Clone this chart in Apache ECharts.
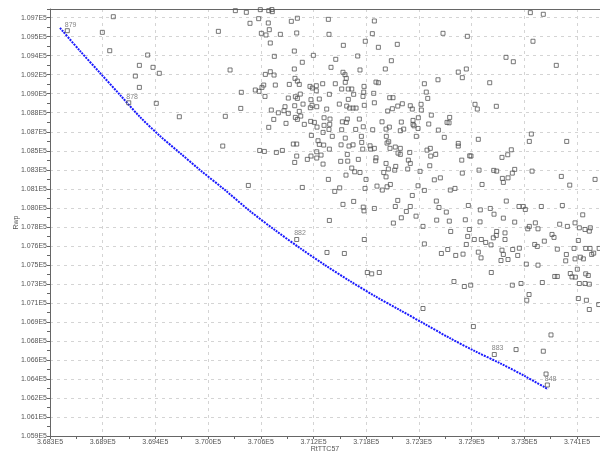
<!DOCTYPE html>
<html>
<head>
<meta charset="utf-8">
<script src="https://cdn.jsdelivr.net/npm/echarts@6/dist/echarts.min.js"></script>
<style>
  html, body { margin: 0; padding: 0; background: #fff; }
  #grf { width: 600px; height: 453px; }
</style>
</head>
<body>
<div id="grf"></div>
<script>
var xMin = 368293.640625, xStep = 576.359375, xMax = 374309;
var yMin = 105895.75, yStep = 172.75, yMax = 109775;
var xName = 'RtTTC57';
var yName = 'Rwp';

// pontos (RtTTC57, Rwp)
var pontosX = [
  368986,368866,368947,369362,369271,369420,369489,369227,369271,369456,369708,370135,370263,370386,370380,370211,
  370183,370463,370321,370441,370594,370686,370725,370720,370481,370576,370681,370692,370605,370656,370813,370933,
  370999,370992,370703,370966,370747,371174,371053,370966,370703,370649,370744,370973,370999,371020,370911,370758,
  370631,370539,370580,370612,370645,370900,370977,370999,371031,371137,371163,371206,371206,371276,371239,371148,
  371061,370970,370864,371141,371211,371159,370714,370791,370853,370900,371020,370977,370999,371036,370741,371291,
  370875,371075,371145,371185,371214,370686,371291,371280,371152,370955,370992,371225,371239,371287,370587,370638,
  370769,370835,370992,370970,371108,371148,371211,371211,371258,371280,371053,
  371338,371841,371345,371819,371742,371502,371885,372092,372592,372858,373547,373689,373576,371659,371419,372027,
  373281,373361,373831,371367,371684,371961,371498,371520,372759,372847,372803,371534,372537,373103,371414,371523,
  371859,371885,371728,372388,371484,371556,371594,371725,371349,371834,372409,371615,371717,371556,372009,372045,
  372425,371841,371458,371539,371608,371641,371731,371320,371572,371987,372038,372097,372147,372234,372256,372352,
  372355,372942,372967,373175,372464,372665,372322,372264,371356,371545,371677,371491,371534,371925,372136,372264,
  372436,372636,372658,372005,371969,371353,371345,371484,371637,371720,371823,372125,372162,372275,372319,372541,
  371381,371523,371699,371972,372300,372606,372978,373558,373536,373945,371349,371477,371564,371608,371703,371714,
  371794,371801,371841,371980,371998,372012,372070,372125,372100,372125,372228,372417,372453,372458,372512,372759,
  372759,372884,372898,373237,373300,373339,371473,371545,371550,371666,371859,371856,371969,372075,372213,372234,
  372206,372447,372797,371594,371626,371684,371994,371944,372064,372341,372803,372986,373147,373179,373350,373376,
  373566,371338,371531,371750,371969,372497,372563,373019,373241,373252,373303,373886,373978,374255,371870,371928,
  371980,372016,371739,371462,371408,372319,372388,372672,372723,372256,372097,372519,373284,371498,371615,371720,
  371728,371841,372070,372191,372234,372548,372628,372869,373000,373109,373150,373423,373470,373492,373667,373897,
  374120,372136,372297,372523,372661,372836,372997,373252,373376,373602,373868,374036,372049,371349,
  372373,373519,373536,373631,373952,374083,374145,374203,374192,371731,372388,371323,371513,371764,371812,371895,
  372676,372880,372862,372934,373011,373059,373117,373142,373179,373175,373270,373270,372847,372644,372574,372731,
  372811,372978,373008,373237,373252,373226,373303,373354,373427,373409,373503,373631,373595,373623,373700,373784,
  373806,373842,373941,373934,374025,374072,374036,374094,374127,374153,374200,374218,374240,374300,374061,373984,
  374003,374039,374153,374181,373814,373842,373678,373445,373350,373120,374083,374145,374192,373533,373508,374072,
  374160,374295,374192,372712,372825,372895,372373,372924,373773,373391,373689,373719
];
var pontosY = [
  109705,109563,109396,109357,109263,109245,109191,109166,109063,108918,108796,109572,109221,109018,108872,108800,
  108530,108172,109760,109745,109769,109760,109751,109770,109645,109687,109648,109587,109554,109539,109545,109663,
  109691,109557,109466,109393,109345,109354,109291,109230,109205,109181,109175,109145,109120,109090,109090,109084,
  109084,109039,109027,109063,108981,108966,108978,108963,109002,109072,109057,109078,109032,109096,108957,108951,
  108911,108896,108887,108878,108887,108900,108857,108832,108851,108827,108845,108790,108772,108802,108772,108787,
  108736,108727,108754,108745,108702,108700,108718,108654,108627,108548,108548,108578,108545,108539,108490,108481,
  108472,108490,108439,108381,108409,108439,108478,108421,108448,108366,108154,
  109681,109666,109545,109551,109482,109445,109427,109454,109554,109527,109742,109727,109482,109348,109318,109305,
  109336,109296,109263,109245,109221,109230,109200,109178,109202,109230,109151,109145,109132,109105,109096,109109,
  109111,109105,109072,109096,109048,109048,109048,109020,109000,109009,109020,109000,108981,108954,108969,108969,
  108963,108923,108911,108893,108875,108875,108900,108866,108875,108848,108869,108893,108914,108896,108866,108909,
  108857,108909,108866,108891,108811,108790,108787,108763,108775,108775,108775,108750,108745,108750,108748,108727,
  108730,108745,108741,108702,108684,108727,108681,108678,108681,108705,108678,108669,108684,108714,108690,108675,
  108618,108602,108618,108618,108618,108609,108591,108639,108572,108572,108502,108541,108530,108541,108563,108502,
  108532,108502,108509,108557,108569,108509,108521,108509,108466,108454,108472,108493,108509,108439,108454,108554,
  108530,108441,108439,108427,108451,108496,108391,108454,108393,108409,108423,108396,108372,108345,108402,108372,
  108321,108351,108402,108330,108296,108290,108321,108290,108311,108300,108284,108311,108309,108302,108284,108318,
  108302,108227,108266,108227,108250,108223,108241,108181,108236,108200,108241,108254,108175,108227,108166,108130,
  108160,108181,108145,108150,108118,108169,108127,108130,108145,108081,108036,108030,108030,108000,108027,107975,
  107941,107963,107981,107936,107981,107972,107930,107990,107950,107963,107911,107981,107981,107954,107981,107990,
  107905,107878,107893,107857,107848,107860,107841,107875,107839,107832,107820,107832,107830,107854,
  107800,107778,107800,107778,107800,107787,107772,107787,107757,107681,107641,107563,107554,107381,107369,107381,
  107754,107772,107709,107681,107681,107654,107632,107696,107754,107718,107741,107681,107636,107590,107554,107536,
  107548,107566,107514,107584,107545,107490,107499,107590,107602,107536,107457,107448,107636,107618,107666,107727,
  107700,107593,107545,107487,107600,107672,107505,107520,107505,107600,107600,107545,107557,107600,107411,107372,
  107341,107339,107369,107354,107345,107345,107290,107281,107266,107381,107281,107281,107275,107181,107129,107145,
  107129,107090,107045,107299,107254,107266,107054,106890,106814,106681,106666,106459
];

// pontos com rotulo
var rotulos  = ['879', '878', '882', '883', '848'];
var rotulosX = [368483, 369155, 370992, 373153, 373733];
var rotulosY = [109578, 108923, 107681, 106636, 106359];

// curva azul
var curvaX = [368403,368622,368841,369060,369278,369497,369716,369935,370208,370481,370755,
              371028,371302,371575,371849,372122,372395,372669,372942,373216,373489,373741];
var curvaY = [109603,109394,109194,108994,108794,108621,108466,108312,108130,107939,107766,
              107603,107448,107303,107166,107039,106912,106784,106666,106557,106439,106321];

var grafico = echarts.init(document.getElementById('grf'));

function juntar(xs, ys) {
  var out = [];
  for (var i = 0; i < xs.length; i++) {
    out.push([xs[i], ys[i]]);
  }
  return out;
}

function formataE5(v) {
  return (v / 1e5).toFixed(3) + 'E5';
}

var fonte = 'Liberation Sans';
var corTexto = '#555';
var corEixo = '#666';
var linhaGrade = { show: true, lineStyle: { color: '#d4d4d4', type: [3, 4], width: 1 } };

var dadosRotulos = [];
for (var i = 0; i < rotulos.length; i++) {
  dadosRotulos.push({ name: rotulos[i], value: [rotulosX[i], rotulosY[i]] });
}

var quadrado = {
  color: 'rgba(0,0,0,0)',
  borderColor: '#555',
  borderWidth: 1
};

var opcoes = {
  animation: false,
  grid: { left: 50, right: 0, top: 9, bottom: 17, outerBoundsMode: 'none' },
  xAxis: [{
    type: 'value',
    min: xMin,
    max: xMax,
    interval: xStep,
    name: xName,
    nameLocation: 'middle',
    nameGap: 10,
    nameMoveOverlap: false,
    nameTextStyle: { color: corTexto, fontSize: 7, fontFamily: fonte },
    axisLine: { lineStyle: { color: corEixo } },
    axisTick: { show: true, length: 3, lineStyle: { color: corEixo } },
    minorTick: { show: true, splitNumber: 2, length: 3, lineStyle: { color: corEixo } },
    axisLabel: {
      formatter: formataE5, color: corTexto, fontSize: 7, fontFamily: fonte,
      margin: 3, showMaxLabel: false
    },
    splitLine: linhaGrade
  }, {
    type: 'value',
    position: 'top',
    min: xMin,
    max: xMax,
    axisLine: { show: true, lineStyle: { color: corEixo } },
    axisTick: { show: false },
    axisLabel: { show: false },
    splitLine: { show: false }
  }],
  yAxis: {
    type: 'value',
    min: yMin,
    max: yMax,
    interval: yStep,
    name: yName,
    nameLocation: 'middle',
    nameGap: 30,
    nameMoveOverlap: false,
    nameTextStyle: { color: corTexto, fontSize: 7, fontFamily: fonte },
    axisLine: { show: true, lineStyle: { color: corEixo } },
    axisTick: { show: true, length: 3, lineStyle: { color: corEixo } },
    minorTick: { show: true, splitNumber: 2, length: 3, lineStyle: { color: corEixo } },
    axisLabel: {
      formatter: formataE5, color: corTexto, fontSize: 7, fontFamily: fonte,
      margin: 3, showMaxLabel: false
    },
    splitLine: linhaGrade
  },
  series: [{
    type: 'line',
    data: juntar(curvaX, curvaY),
    showSymbol: false,
    smooth: 0.3,
    lineStyle: { color: '#1a1aff', width: 2, type: [2, 1] },
    z: 3
  }, {
    type: 'scatter',
    data: juntar(pontosX, pontosY),
    symbol: 'rect',
    symbolSize: 4,
    itemStyle: quadrado,
    z: 2
  }, {
    type: 'scatter',
    data: dadosRotulos,
    symbol: 'rect',
    symbolSize: 4,
    itemStyle: quadrado,
    label: {
      show: true,
      formatter: '{b}',
      position: [0, -7],
      color: '#666',
      fontSize: 7,
      fontFamily: fonte
    },
    z: 4
  }]
};

grafico.setOption(opcoes);
</script>
</body>
</html>
